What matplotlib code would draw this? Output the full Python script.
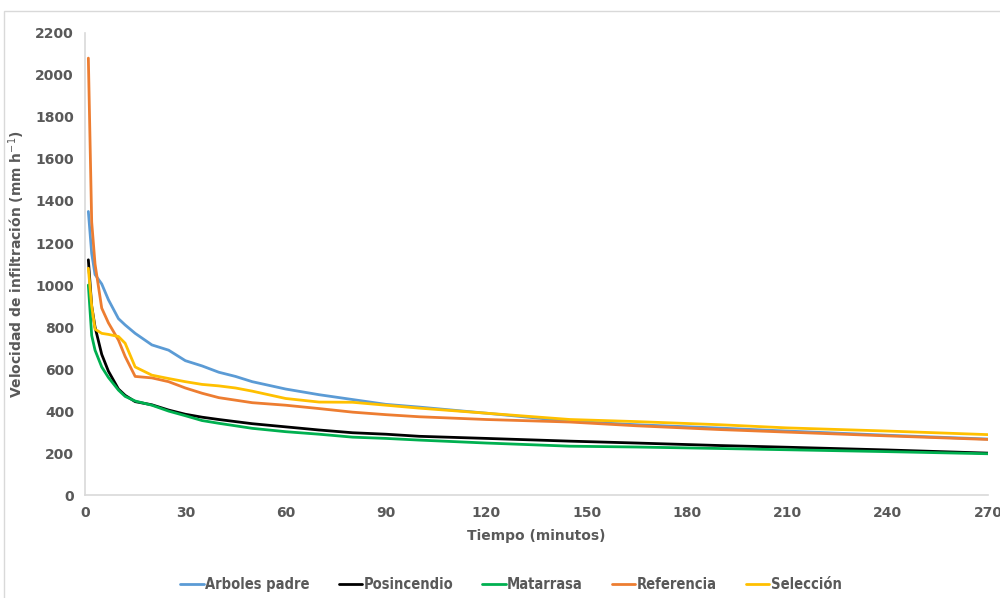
import matplotlib.pyplot as plt
from matplotlib.patches import Rectangle

# Time (minutes) and infiltration rate (mm h-1)
tiempo = [1, 2, 3, 5, 7, 10, 12, 15, 20, 25, 30, 35, 40, 45, 50, 60, 70, 80, 90,
          100, 120, 145, 165, 190, 210, 240, 270]

arboles_padre = [1350, 1150, 1050, 1005, 930, 840, 810, 770, 715, 690, 640, 615, 585,
                 565, 540, 505, 478, 455, 432, 419, 390, 352, 335, 319, 305, 285, 267]
posincendio = [1120, 900, 800, 670, 590, 505, 475, 445, 430, 405, 385, 371, 360,
               350, 340, 325, 310, 297, 290, 280, 270, 257, 248, 236, 228, 215, 200]
matarrasa = [1000, 760, 690, 610, 560, 500, 470, 448, 428, 400, 378, 355, 342,
             330, 318, 302, 290, 276, 270, 262, 248, 233, 229, 222, 216, 207, 197]
referencia = [2080, 1300, 1100, 890, 820, 738, 660, 565, 558, 540, 510, 485, 464,
              452, 440, 428, 412, 395, 383, 373, 360, 348, 330, 312, 300, 282, 265]
seleccion = [1080, 900, 790, 770, 765, 755, 723, 610, 571, 555, 540, 527, 520,
             510, 495, 460, 443, 442, 428, 414, 390, 360, 350, 335, 320, 305, 288]

series = [
    ('Arboles padre', arboles_padre, '#5B9BD5'),
    ('Posincendio', posincendio, '#000000'),
    ('Matarrasa', matarrasa, '#00B050'),
    ('Referencia', referencia, '#ED7D31'),
    ('Selección', seleccion, '#FFC000'),
]

text_color = '#595959'
fig = plt.figure(figsize=(10, 5.98), dpi=100)
ax = fig.add_axes([0.085, 0.172, 0.903, 0.773])

for name, values, color in series:
    ax.plot(tiempo, values, color=color, linewidth=2, label=name,
            solid_joinstyle='round', solid_capstyle='round')

ax.set_xlim(0, 270)
ax.set_ylim(0, 2200)
ax.set_xticks(range(0, 271, 30))
ax.set_yticks(range(0, 2201, 200))

for side in ['top', 'right']:
    ax.spines[side].set_visible(False)
for side in ['left', 'bottom']:
    ax.spines[side].set_color('#D9D9D9')
    ax.spines[side].set_linewidth(1.2)

ax.tick_params(length=0, colors=text_color, labelsize=10, pad=8)
for lbl in ax.get_xticklabels() + ax.get_yticklabels():
    lbl.set_fontweight('bold')

ax.set_xlabel('Tiempo (minutos)', fontsize=10, fontweight='bold', color=text_color, labelpad=6)
ax.set_ylabel('Velocidad de infiltración (mm h$^{-1}$)', fontsize=10, fontweight='bold',
              color=text_color, labelpad=6)

leg = fig.legend(loc='center', bbox_to_anchor=(0.511, 0.022), ncol=5, frameon=False,
                 handlelength=1.6, handletextpad=0.1, columnspacing=2.0,
                 prop={'family': 'DejaVu Sans', 'stretch': 'condensed',
                       'weight': 'bold', 'size': 10.5})
for t in leg.get_texts():
    t.set_color(text_color)

# outer chart border
fig.patches.append(Rectangle((0.004, -0.01), 1.0, 0.992, transform=fig.transFigure,
                             fill=False, edgecolor='#D9D9D9', linewidth=1))

fig.savefig('out.png', dpi=100)
